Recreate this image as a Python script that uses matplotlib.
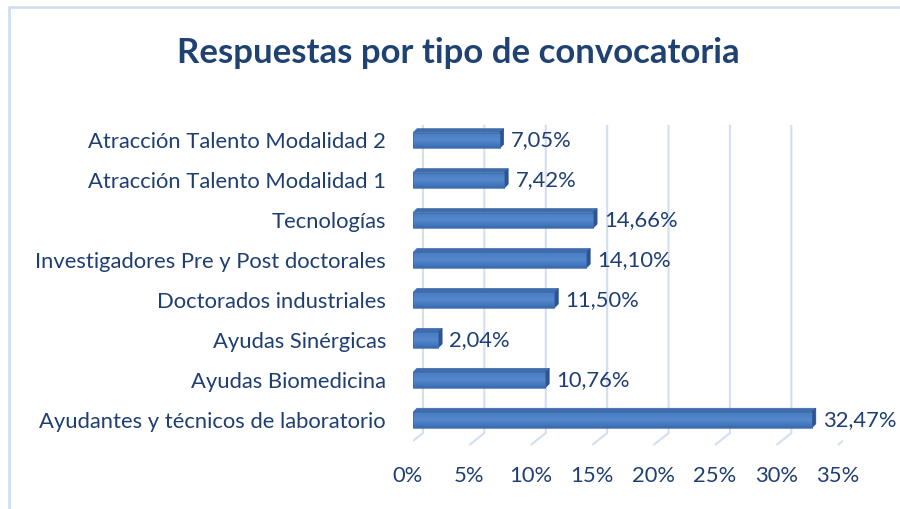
import matplotlib.pyplot as plt
import matplotlib.patches as patches
from matplotlib.lines import Line2D
from matplotlib.colors import LinearSegmentedColormap
import numpy as np

plt.rcParams['font.family'] = ['Lato', 'DejaVu Sans']

# data (bottom to top)
categories = [
    "Ayudantes y técnicos de laboratorio",
    "Ayudas Biomedicina",
    "Ayudas Sinérgicas",
    "Doctorados industriales",
    "Investigadores Pre y Post doctorales",
    "Tecnologías",
    "Atracción Talento Modalidad 1",
    "Atracción Talento Modalidad 2",
]
values = [32.47, 10.76, 2.04, 11.50, 14.10, 14.66, 7.42, 7.05]
value_labels = ["32,47%", "10,76%", "2,04%", "11,50%", "14,10%", "14,66%", "7,42%", "7,05%"]
ticks = [0, 5, 10, 15, 20, 25, 30, 35]
tick_labels = ["0%", "5%", "10%", "15%", "20%", "25%", "30%", "35%"]

text_color = '#1F3F73'
grid_color = '#D3DEF0'
fs = 15.8

fig = plt.figure(figsize=(9, 5.09), dpi=100)
ax = fig.add_axes([413 / 900, (509 - 450) / 509, 429.8 / 900, 329.5 / 509])

# 3D-ish geometry (in data units)
front_off = -0.41   # floor front edge
back_off = 0.81     # back wall
y_top = 7.39
y_back_floor = -0.325
y_front_floor = -0.625
bar_h = 0.39
ddx = 0.33
ddy = 0.10

# back gridlines + floor diagonals
for t in ticks:
    ax.plot([t + back_off, t + back_off, t + front_off],
            [y_top, y_back_floor, y_front_floor],
            color=grid_color, lw=1.5, zorder=1, solid_capstyle='butt')
# left wall front edge
ax.plot([front_off, front_off], [y_top - 0.05, y_front_floor], color=grid_color, lw=1.5, zorder=1)

cmap = LinearSegmentedColormap.from_list('bar', ['#3C6AAE', '#5389CE', '#4A7BC0'])
grad = np.linspace(0, 1, 50).reshape(-1, 1)

for i, v in enumerate(values):
    y0 = i - bar_h / 2
    y1 = i + bar_h / 2
    # top face
    ax.add_patch(patches.Polygon([(0, y1), (v, y1), (v + ddx, y1 + ddy), (ddx, y1 + ddy)],
                                 closed=True, facecolor='#3F6CAA', edgecolor='#3F6CAA', lw=0.5, zorder=3))
    # side face
    ax.add_patch(patches.Polygon([(v, y0), (v + ddx, y0 + ddy), (v + ddx, y1 + ddy), (v, y1)],
                                 closed=True, facecolor='#2B5490', edgecolor='#2B5490', lw=0.5, zorder=3))
    # front face with gradient
    rect = patches.Rectangle((0, y0), v, bar_h, facecolor='none', edgecolor='#3A68AB', lw=0.5, zorder=4)
    ax.add_patch(rect)
    im = ax.imshow(grad, cmap=cmap, extent=[0, v, y0, y1], aspect='auto', origin='lower', zorder=3.5)
    im.set_clip_path(rect)
    ax.text(v + ddx + 0.6, i, value_labels[i], va='center', ha='left',
            fontsize=fs, color=text_color, zorder=5)

for t, lab in zip(ticks, tick_labels):
    ax.text(t + front_off, -1.40, lab, ha='center', va='center', fontsize=fs,
            color=text_color, clip_on=False)

ax.set_xlim(0, 35)
ax.set_ylim(-0.75, 7.5)
ax.set_yticks(range(len(categories)))
ax.set_yticklabels(categories, fontsize=fs, color=text_color)
ax.tick_params(axis='y', length=0, pad=19.4)
ax.set_xticks([])
for s in ax.spines.values():
    s.set_visible(False)
ax.patch.set_alpha(0)

fig.text(458 / 900, 1 - 53 / 509, "Respuestas por tipo de convocatoria", ha='center', va='center',
         fontsize=25, fontweight='bold', color='#1F4273')

# chart border (only top and left visible)
fig.add_artist(Line2D([9 / 900, 9 / 900, 1], [0, 1 - 7 / 509, 1 - 7 / 509],
                      transform=fig.transFigure, color='#D0DEF0', lw=2))

fig.savefig('out.png', dpi=100)
